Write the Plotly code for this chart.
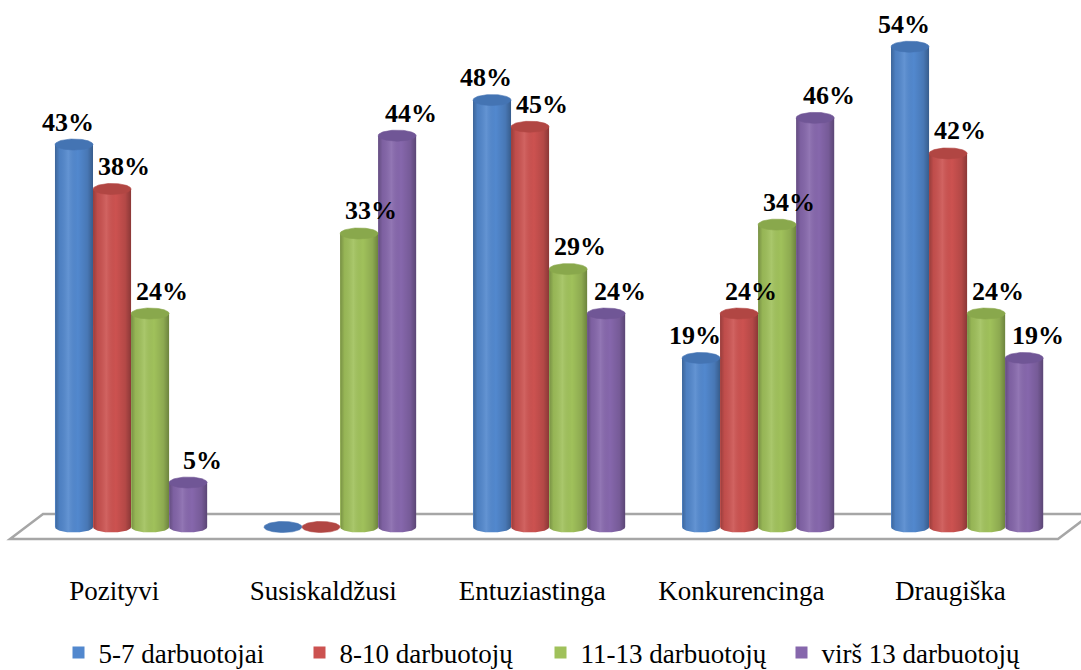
import numpy as np
import plotly.graph_objects as go

# --- data -------------------------------------------------------------
categories = ["Pozityvi", "Susiskaldžusi", "Entuziastinga", "Konkurencinga", "Draugiška"]
series_names = ["5-7 darbuotojai", "8-10 darbuotojų", "11-13 darbuotojų", "virš 13 darbuotojų"]
v_5_7 = [43, 0, 48, 19, 54]
v_8_10 = [38, 0, 45, 24, 42]
v_11_13 = [24, 33, 29, 34, 24]
v_over_13 = [5, 44, 24, 46, 19]
series_values = [v_5_7, v_8_10, v_11_13, v_over_13]

# --- styling ----------------------------------------------------------
body_colors = ["#5288CE", "#CC5250", "#A0C15B", "#8667AC"]
cap_colors = ["#4474B3", "#B14643", "#89A84C", "#705696"]
label_xshift = [-6, 12, 12, 14]
FONT = "Liberation Serif, Times New Roman, serif"

BAR_W = 0.182          # cylinder width in x units
RY = 0.62              # half height of the elliptical ends, in value units
N_PTS = 48

# horizontal shading laid over each cylinder body
shade = [
    [0.0, "rgba(0,0,0,0.26)"],
    [0.12, "rgba(0,0,0,0.06)"],
    [0.35, "rgba(255,255,255,0.10)"],
    [0.6, "rgba(0,0,0,0.0)"],
    [0.85, "rgba(0,0,0,0.12)"],
    [1.0, "rgba(0,0,0,0.32)"],
]

group_x = np.arange(len(categories), dtype=float)
offsets = (np.arange(len(series_names)) - 1.5) * BAR_W

fig = go.Figure()

# cylinder bodies as bars
for name, vals, col, off in zip(series_names, series_values, body_colors, offsets):
    fig.add_trace(go.Bar(
        x=group_x + off, y=vals, width=BAR_W, name=name,
        marker=dict(color=col, line=dict(width=0)),
        hoverinfo="skip",
    ))

t = np.linspace(0, np.pi, N_PTS)
t_full = np.linspace(0, 2 * np.pi, 2 * N_PTS)
rx = BAR_W / 2

for vals, col, cap, off in zip(series_values, body_colors, cap_colors, offsets):
    for gx, v in zip(group_x, vals):
        cx = gx + off
        if v > 0:
            # rounded bottom of the cylinder below the baseline
            bx = np.concatenate([[cx - rx], cx - rx * np.cos(t), [cx + rx]])
            by = np.concatenate([[0], -RY * np.sin(t), [0]])
            fig.add_trace(go.Scatter(
                x=bx, y=by, mode="lines", line=dict(width=0),
                fill="toself", fillcolor=col, showlegend=False, hoverinfo="skip",
            ))
            # shading across the whole side of the cylinder
            sx = np.concatenate([[cx - rx], cx - rx * np.cos(t), [cx + rx, cx - rx]])
            sy = np.concatenate([[v], -RY * np.sin(t), [v, v]])
            fig.add_trace(go.Scatter(
                x=sx, y=sy, mode="lines", line=dict(width=0),
                fill="toself",
                fillgradient=dict(type="horizontal", colorscale=shade),
                showlegend=False, hoverinfo="skip",
            ))
        # elliptical top (a flat disc when the value is zero)
        fig.add_trace(go.Scatter(
            x=cx + rx * np.cos(t_full), y=v + RY * np.sin(t_full),
            mode="lines", line=dict(width=0.6, color=cap),
            fill="toself", fillcolor=cap, showlegend=False, hoverinfo="skip",
        ))

# value labels
annotations = []
for vals, off, xs in zip(series_values, offsets, label_xshift):
    for gx, v in zip(group_x, vals):
        if v == 0:
            continue
        annotations.append(dict(
            x=gx + off, y=v, text=f"<b>{v}%</b>", showarrow=False,
            xanchor="center", yanchor="bottom", xshift=xs, yshift=6,
            font=dict(family=FONT, size=26, color="black"),
        ))

# floor of the chart
floor = dict(
    type="path", xref="x", yref="y", layer="below",
    path="M -0.421,1.46 L -0.579,-1.35 L 4.435,-1.35 L 4.593,1.46 Z",
    line=dict(color="#A6A6A6", width=2.5), fillcolor="rgba(255,255,255,0)",
)

fig.update_layout(
    width=1081, height=670,
    margin=dict(l=0, r=0, t=20, b=110, autoexpand=False),
    paper_bgcolor="white", plot_bgcolor="white",
    barmode="overlay",
    showlegend=True,
    legend=dict(
        orientation="h", x=0.5, xanchor="center",
        yref="container", y=0.062, yanchor="top",
        font=dict(family=FONT, size=27, color="black"),
        itemwidth=30, traceorder="normal",
        entrywidth=196, entrywidthmode="pixels",
    ),
    xaxis=dict(
        range=[-0.627, 4.545], showgrid=False, zeroline=False, showline=False,
        tickmode="array", tickvals=list(group_x - 0.08), ticktext=categories,
        ticks="outside", ticklen=7, tickcolor="rgba(0,0,0,0)",
        tickfont=dict(family=FONT, size=27, color="black"),
        automargin=False,
    ),
    yaxis=dict(
        range=[-3.71, 57.0], showgrid=False, zeroline=False, showline=False,
        showticklabels=False, ticks="", automargin=False,
    ),
    shapes=[floor],
    annotations=annotations,
)

fig.write_html("out.html")
